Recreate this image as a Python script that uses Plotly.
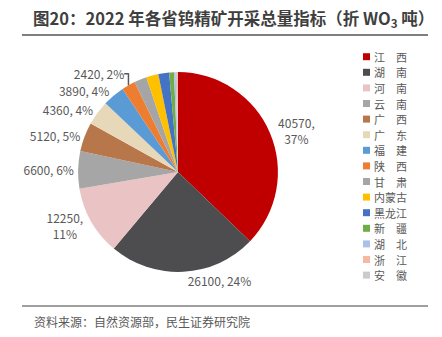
import plotly.graph_objects as go

provinces = ["江　西", "湖　南", "河　南", "云　南", "广　西", "广　东", "福　建", "陕　西",
             "甘　肃", "内蒙古", "黑龙江", "新　疆", "湖　北", "浙　江", "安　徽"]
tonnage = [40570, 26100, 12250, 6600, 5120, 4360, 3890, 2420,
           2200, 2150, 1900, 850, 300, 200, 200]
colors = ["#C00000", "#4D4D4F", "#EAC4C4", "#A6A6A6", "#B8774A", "#E8D8BA", "#5B9BD5", "#ED7D31",
          "#A5A5A5", "#FFC000", "#4472C4", "#70AD47", "#A9C3E6", "#F4B9A3", "#CBCBCB"]
# only the eight largest provinces carry a value label
labelled = 8
two_line = {0, 2}

W, H = 442, 337
total = sum(tonnage)
texts, positions = [], []
for i, v in enumerate(tonnage):
    if i >= labelled:
        texts.append("")
        positions.append("none")
        continue
    pct = round(v / total * 100)
    sep = ",<br>" if i in two_line else ", "
    texts.append(f"{v}{sep}{pct}%")
    positions.append("outside")

fig = go.Figure(go.Pie(
    labels=provinces, values=tonnage, text=texts,
    textinfo="text", textposition=positions,
    marker=dict(colors=colors),
    sort=False, direction="clockwise", rotation=0,
    domain=dict(x=[78 / W, 278 / W], y=[0.193, 0.786]),
    outsidetextfont=dict(size=12, color="#595959"),
    showlegend=False,
))

fig.update_layout(
    width=W, height=H,
    margin=dict(l=0, r=0, t=0, b=0),
    paper_bgcolor="white", plot_bgcolor="white",
    font=dict(family="Noto Sans CJK SC, sans-serif"),
    showlegend=False,
)

# compact vertical legend: colour swatch + province name per row
legend_top, legend_step = 56.7, 15.6
for i, (name, col) in enumerate(zip(provinces, colors)):
    yc = legend_top + i * legend_step
    fig.add_shape(type="rect", xref="paper", yref="paper",
                  x0=363 / W, x1=370 / W, y0=1 - (yc + 3.5) / H, y1=1 - (yc - 3.5) / H,
                  fillcolor=col, line=dict(width=0))
    fig.add_annotation(text=name, x=372 / W, y=1 - yc / H, xref="paper", yref="paper",
                       xanchor="left", yanchor="middle", showarrow=False,
                       font=dict(size=11, color="#595959"))

fig.add_annotation(text="<b>图20：2022 年各省钨精矿开采总量指标（折 WO<sub>3</sub> 吨）</b>",
                   x=31 / W, y=1 - 19 / H, xref="paper", yref="paper",
                   xanchor="left", yanchor="middle", showarrow=False,
                   font=dict(size=16.5, color="#3F3F3F"))
fig.add_annotation(text="资料来源：自然资源部，民生证券研究院",
                   x=32 / W, y=1 - 321 / H, xref="paper", yref="paper",
                   xanchor="left", yanchor="middle", showarrow=False,
                   font=dict(size=12, color="#595959"))
fig.add_shape(type="line", xref="paper", yref="paper",
              x0=22 / W, x1=428 / W, y0=1 - 35 / H, y1=1 - 35 / H,
              line=dict(color="#7F7F7F", width=2))
fig.add_shape(type="line", xref="paper", yref="paper",
              x0=22 / W, x1=428 / W, y0=1 - 306 / H, y1=1 - 306 / H,
              line=dict(color="#7F7F7F", width=1.5))

fig.write_html("out.html")
